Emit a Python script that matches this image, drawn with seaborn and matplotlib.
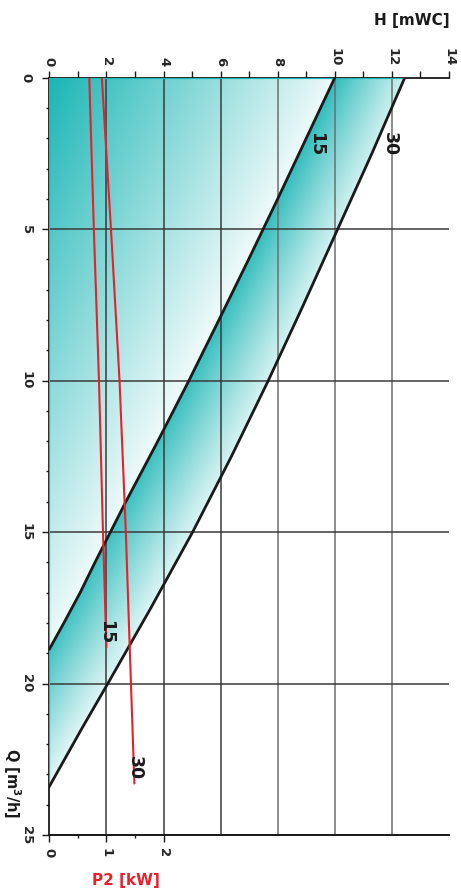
import numpy as np
import pandas as pd
import matplotlib
matplotlib.use("Agg")
import matplotlib.pyplot as plt
import seaborn as sns

# Pump curves: flow Q [m3/h] -> head H [mWC], for the two models
Q15 = [0, 2, 4, 6, 8, 10, 12, 14, 16, 17, 18, 18.87]
H15 = [10.0, 9.0, 8.0, 6.98, 5.94, 4.89, 3.8, 2.68, 1.6, 1.08, 0.51, 0.0]
Q30 = [0, 2.5, 5, 7.5, 10, 12.5, 15, 17.5, 20, 21.5, 23.4]
H30 = [12.45, 11.3, 10.1, 8.9, 7.67, 6.38, 5.02, 3.56, 2.05, 1.13, 0.0]

# Shaft power P2 [kW] vs Q
QP15 = [0, 5, 10, 15, 18.8]
P15 = [0.70, 0.78, 0.87, 0.94, 1.0]
QP30 = [0, 5, 10, 15, 20, 23.3]
P30 = [0.92, 1.08, 1.23, 1.34, 1.43, 1.49]

H_TICKS = [0, 2, 4, 6, 8, 10, 12, 14]
Q_TICKS = [0, 5, 10, 15, 20, 25]
P_TICKS = [0, 1, 2]
CURVE_LABELS = ["15", "30"]

TEAL = np.array([0.10, 0.71, 0.71])
RED = "#e8202a"
INK = "#1a1a1a"

sns.set_style("white")
plt.rcParams["font.family"] = ["DejaVu Sans"]
plt.rcParams["font.weight"] = "bold"

fig = plt.figure(figsize=(4.61, 8.93), dpi=100)
ax = fig.add_axes([49.3 / 461, 58 / 893, 399.7 / 461, 757.3 / 893])

H_MAX, Q_MAX = H_TICKS[-1], Q_TICKS[-1]

# gradient fill under / between the pump curves
hh, qq = np.meshgrid(np.linspace(0, H_MAX, 700), np.linspace(0, Q_MAX, 900))
h15 = np.interp(qq, Q15, H15, right=0.0)
h30 = np.interp(qq, Q30, H30, right=0.0)
end_slope = (H15[-1] - H15[-2]) / (Q15[-1] - Q15[-2])
h15e = np.where(qq > Q15[-1], end_slope * (qq - Q15[-1]), h15)
# below the 15 curve: diagonal fade from the origin corner
va = np.clip(hh / H15[0] + qq / Q15[-1], 0, 1) * 0.92
# between the curves: fade from the 15 curve towards the 30 curve
frac = np.clip((hh - h15e) / np.maximum(h30 - h15e, 1e-6), 0, 1)
vb = 0.08 + 0.1 * qq / Q30[-1] + 0.7 * frac ** 0.9
v = np.where(hh <= h15, va, vb)
rgba = np.zeros(hh.shape + (4,))
rgba[..., :3] = TEAL * (1 - v[..., None]) + v[..., None]
rgba[..., 3] = (hh <= h30).astype(float)
ax.imshow(rgba, extent=[0, H_MAX, Q_MAX, 0], origin="upper", aspect="auto",
          interpolation="bilinear", zorder=1)

# grid
for h in H_TICKS[1:-1]:
    ax.axvline(h, color="#3a3a3a" if h <= 6 else "#6e6e6e", lw=1.1, zorder=2)
for q in Q_TICKS[1:-1]:
    ax.axhline(q, color="#3a3a3a", lw=1.1, zorder=2)

# teal edge where the fill touches the frame
ax.plot([0, 0], [0, Q30[-1]], color="#1bb8b8", lw=1.6, zorder=3, solid_capstyle="butt")
ax.plot([0, H30[0]], [0, 0], color="#1bb8b8", lw=1.6, zorder=3, solid_capstyle="butt")

curves = pd.concat([
    pd.DataFrame({"Q": Q15, "H": H15, "model": CURVE_LABELS[0]}),
    pd.DataFrame({"Q": Q30, "H": H30, "model": CURVE_LABELS[1]}),
])
sns.lineplot(data=curves, x="H", y="Q", units="model", estimator=None, sort=False,
             color=INK, lw=2.0, ax=ax, zorder=4)

ax.text(np.interp(2.2, Q15, H15) + 0.45, 2.2, CURVE_LABELS[0], rotation=-90,
        ha="center", va="center", fontsize=12.5, fontweight="bold", color=INK, zorder=5)
ax.text(np.interp(2.2, Q30, H30) + 0.5, 2.2, CURVE_LABELS[1], rotation=-90,
        ha="center", va="center", fontsize=12.5, fontweight="bold", color=INK, zorder=5)

ax.set_xlim(0, H_MAX)
ax.set_ylim(Q_MAX, 0)
ax.set_xlabel("")
ax.set_ylabel("")

# power axis (bottom)
ax2 = ax.twiny()
ax2.set_xlim(0, H_MAX / 2)
power = pd.concat([
    pd.DataFrame({"Q": QP15, "P2": P15, "model": CURVE_LABELS[0]}),
    pd.DataFrame({"Q": QP30, "P2": P30, "model": CURVE_LABELS[1]}),
])
sns.lineplot(data=power, x="P2", y="Q", units="model", estimator=None, sort=False,
             color=RED, lw=1.5, ax=ax2, zorder=5)
ax2.set_xlim(0, H_MAX / 2)
ax2.set_ylim(Q_MAX, 0)
ax2.text(P15[-1], QP15[-1] - 0.5, CURVE_LABELS[0], rotation=-90, ha="center", va="center",
         fontsize=12.5, fontweight="bold", color=INK, zorder=6)
ax2.text(P30[-1], QP30[-1] - 0.5, CURVE_LABELS[1], rotation=-90, ha="center", va="center",
         fontsize=12.5, fontweight="bold", color=INK, zorder=6)
ax2.xaxis.set_ticks_position("bottom")
ax2.xaxis.set_label_position("bottom")
ax2.set_xticks(P_TICKS)
ax2.set_xticks([0.5, 1.5], minor=True)
ax2.tick_params(axis="x", which="major", bottom=True, top=False, direction="out",
                length=5, width=1, color=INK, pad=4, labelsize=9.5, labelrotation=-90)
ax2.tick_params(axis="x", which="minor", bottom=True, top=False, direction="out",
                length=2.5, width=1, color=INK)
ax2.set_xlabel("")
ax2.set_ylabel("")
for side in ["top", "left", "right"]:
    ax2.spines[side].set_visible(False)
ax2.spines["bottom"].set_color(INK)
ax2.spines["bottom"].set_linewidth(1.3)

# head axis on top, flow axis on the left (set after twiny, which resets them)
ax.xaxis.tick_top()
ax.set_xticks(H_TICKS)
ax.set_xticks(np.arange(1, H_MAX, 2), minor=True)
ax.set_yticks(Q_TICKS)
ax.set_yticks(np.arange(0, Q_MAX + 1, 1), minor=True)
ax.tick_params(axis="x", which="both", top=True, bottom=False, labeltop=True,
               labelbottom=False, direction="out", length=5, width=1, color=INK,
               pad=3, labelsize=9.5, labelrotation=-90)
ax.tick_params(axis="y", which="major", left=True, direction="out", length=5,
               width=1, color=INK, pad=7, labelsize=9.5, labelrotation=-90)
ax.tick_params(axis="y", which="minor", left=True, direction="out", length=2.5,
               width=1, color=INK)
for lab in ax.get_yticklabels():
    lab.set_va("center")
for side in ["top", "left", "bottom"]:
    ax.spines[side].set_color(INK)
    ax.spines[side].set_linewidth(1.3)
ax.spines["right"].set_visible(False)

fig.text(450 / 461, 1 - 20 / 893, "H [mWC]", ha="right", va="center",
         fontsize=11, fontweight="bold", color=INK)
fig.text(126 / 461, 1 - 880 / 893, "P2 [kW]", ha="center", va="center",
         fontsize=11, fontweight="bold", color=RED)
fig.text(12 / 461, 1 - 783 / 893, "Q [m$^\\mathbf{3}$/h]", rotation=-90, ha="center",
         va="center", fontsize=10.5, fontweight="bold", color=INK)

fig.savefig("out.png", dpi=100)
